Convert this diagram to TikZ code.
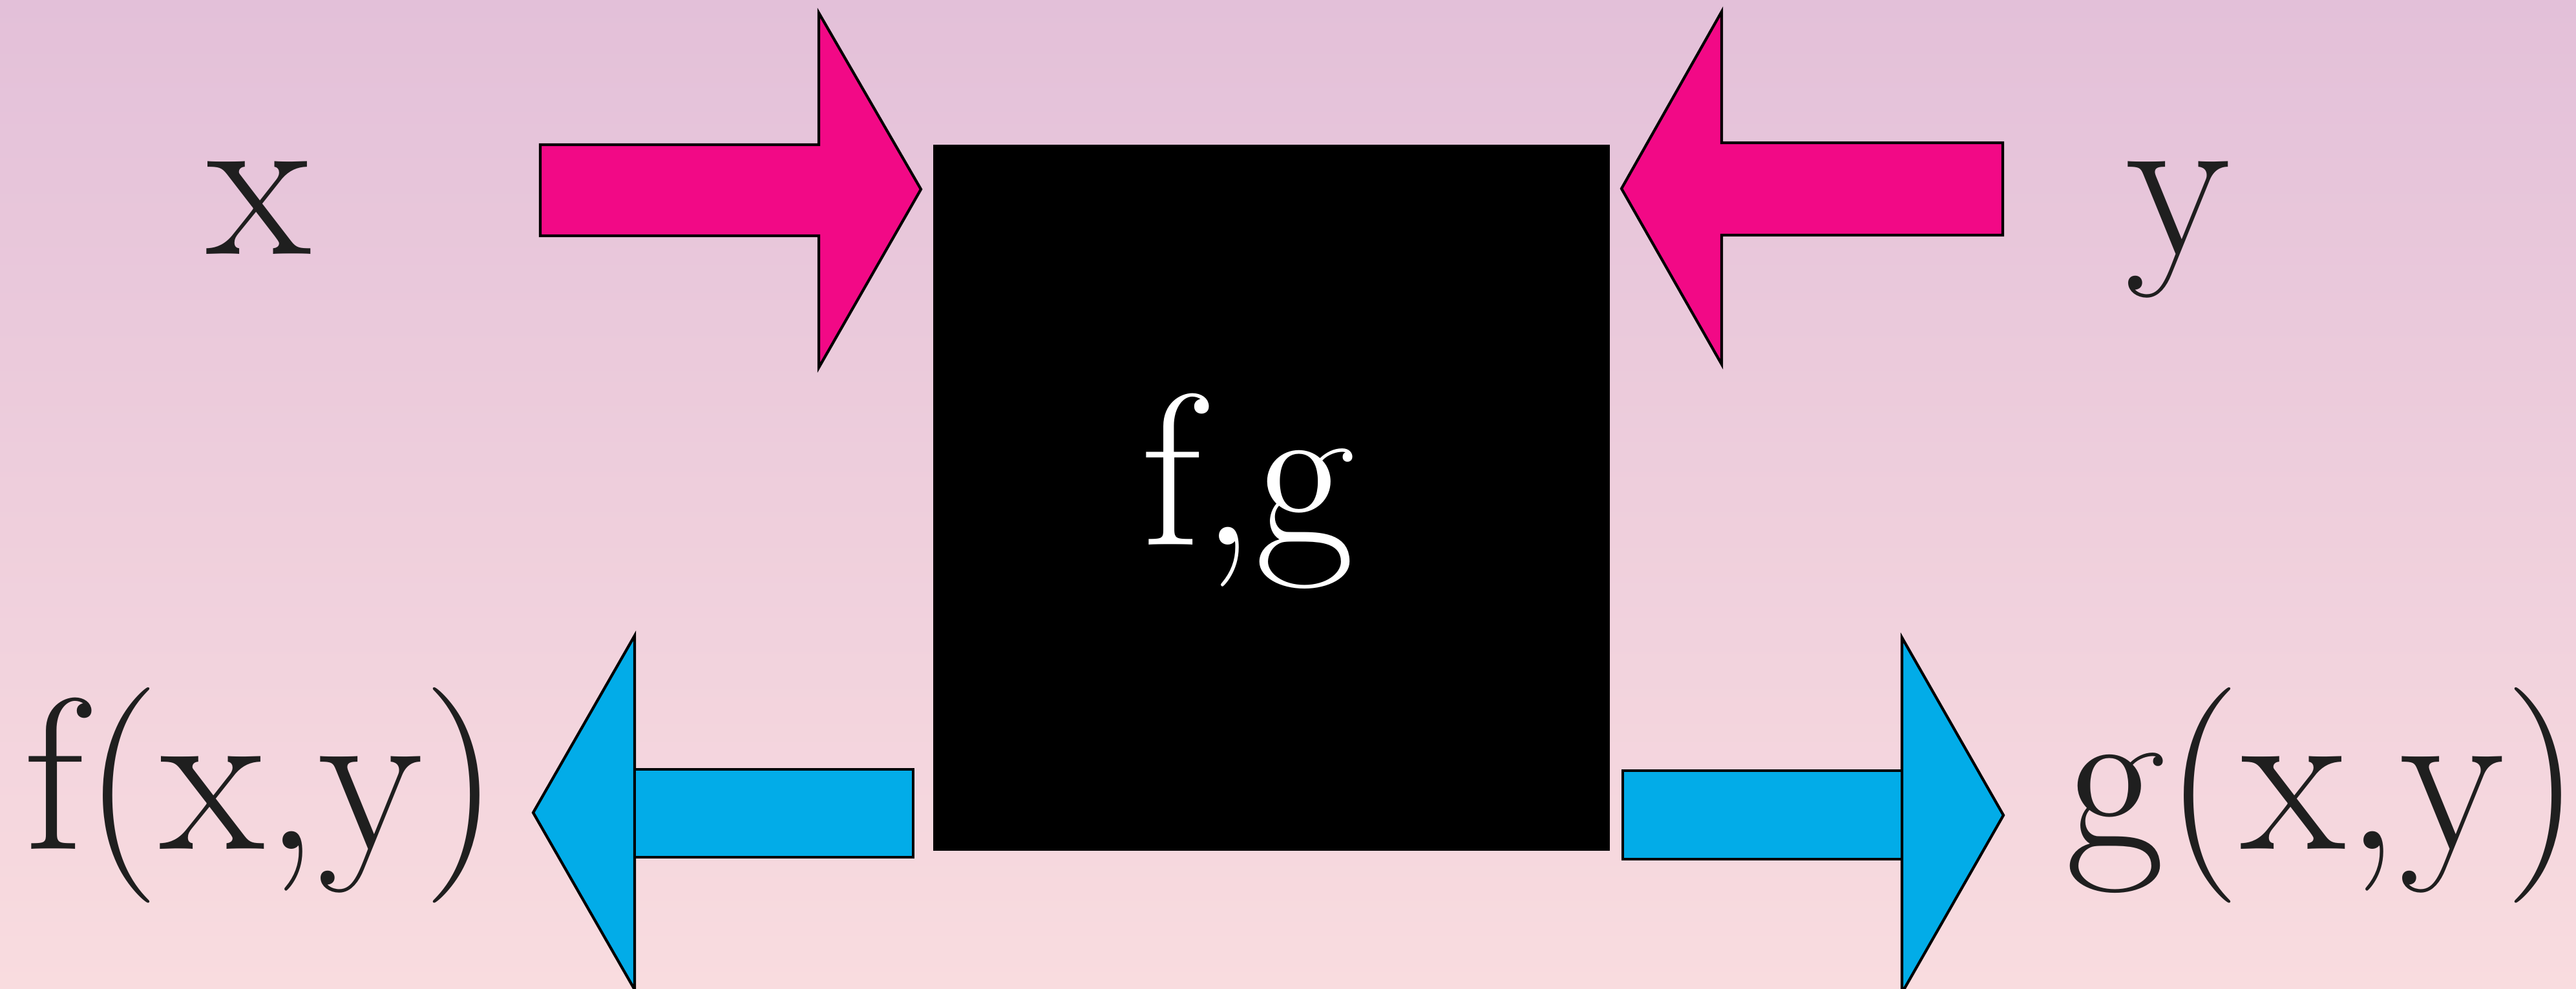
\documentclass[tikz,border=0pt]{standalone}
\definecolor{bgtop}{RGB}{227,192,217}
\definecolor{bgbot}{RGB}{249,220,223}
\definecolor{inpink}{RGB}{242,9,134}
\definecolor{outblue}{RGB}{2,172,232}
\tikzset{
  lbl/.style={anchor=base, inner sep=0pt, font=\fontsize{95}{112}\selectfont, text=black!88},
  pinkarrow/.style={fill=inpink, draw=black, line width=1.2pt, line join=miter},
  bluearrow/.style={fill=outblue, draw=black, line width=1.2pt, line join=miter},
  blackbox/.style={fill=black, draw=none, minimum width=10.47cm, minimum height=10.93cm, inner sep=0pt}
}
\begin{document}
\begin{tikzpicture}
\useasboundingbox (0,0) rectangle (39.86,-15.31);
\shade[top color=bgtop, bottom color=bgbot] (0,0) rectangle (39.86,-15.31);
% central black box
\node[blackbox] (box) at (19.675,-7.705) {};
\node[lbl, text=white] (fg) at (19.31,-8.44) {f,g};
% input arrows
\draw[pinkarrow] (8.36,-2.24) -- (12.67,-2.24) -- (12.67,-0.20) -- (14.25,-2.93)
  -- (12.67,-5.69) -- (12.67,-3.65) -- (8.36,-3.65) -- cycle;
\draw[pinkarrow] (30.99,-2.21) -- (26.64,-2.21) -- (26.64,-0.18) -- (25.09,-2.92)
  -- (26.64,-5.64) -- (26.64,-3.64) -- (30.99,-3.64) -- cycle;
% output arrows
\draw[bluearrow] (9.82,-9.84) -- (8.25,-12.58) -- (9.82,-15.32) -- cycle;
\draw[bluearrow] (9.82,-11.91) rectangle (14.13,-13.27);
\draw[bluearrow] (29.43,-9.87) -- (31.00,-12.62) -- (29.43,-15.37) -- cycle;
\draw[bluearrow] (25.11,-11.93) rectangle (29.43,-13.30);
% labels
\node[lbl] (x) at (4.00,-3.94) {x};
\node[lbl] (y) at (33.70,-3.94) {y};
\node[lbl] (f) at (4.05,-13.14) {f(x,y)};
\node[lbl] (g) at (35.95,-13.14) {g(x,y)};
\end{tikzpicture}
\end{document}
